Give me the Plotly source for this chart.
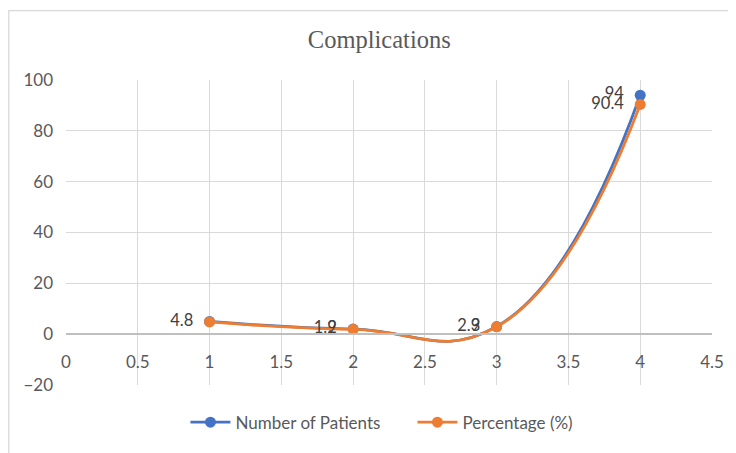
import plotly.graph_objects as go

x_vals = [1, 2, 3, 4]
patients = [5, 2, 3, 94]
percentage = [4.8, 1.9, 2.9, 90.4]
patients_labels = ["", "2", "3", "94"]
percentage_labels = ["4.8", "1.9", "2.9", "90.4"]

BLUE = "#4472C4"
ORANGE = "#ED7D31"
PAD = "\u00a0\u00a0"
LABEL_FONT = dict(family="Lato, Liberation Sans, sans-serif", size=16.5, color="#404040")

fig = go.Figure()
fig.add_trace(go.Scatter(
    x=x_vals, y=patients, name="Number of Patients",
    mode="lines+markers+text",
    line=dict(color=BLUE, width=2.8, shape="spline", smoothing=1.3),
    marker=dict(color=BLUE, size=11),
    text=[t + PAD if t else t for t in patients_labels],
    textposition="middle left", textfont=LABEL_FONT,
))
fig.add_trace(go.Scatter(
    x=x_vals, y=percentage, name="Percentage (%)",
    mode="lines+markers+text",
    line=dict(color=ORANGE, width=2.8, shape="spline", smoothing=1.3),
    marker=dict(color=ORANGE, size=11),
    text=[t + PAD for t in percentage_labels],
    textposition="middle left", textfont=LABEL_FONT,
))

ymin, ymax = -20, 100
W, H = 728, 445
L, T, R, B = 58, 72, 21, 65
pw, ph = W - L - R, H - T - B
fig.update_layout(
    width=W, height=H,
    margin=dict(l=L, r=R, t=T, b=B),
    paper_bgcolor="white", plot_bgcolor="white",
    title=dict(text="Complications", x=0.51, xanchor="center", xref="container",
               y=0.93, yanchor="middle", yref="container",
               font=dict(family="Liberation Serif, DejaVu Serif, serif", size=24.5, color="#595959")),
    font=dict(family="Lato, Liberation Sans, sans-serif", size=17, color="#595959"),
    xaxis=dict(range=[0, 4.5], dtick=0.5, tick0=0, showgrid=True, gridcolor="#D9D9D9",
               gridwidth=1.3, zeroline=False, showline=True, linecolor="#BFBFBF", linewidth=1.5,
               anchor="free", position=(0 - ymin) / (ymax - ymin), ticks="",
               ticklabelstandoff=13,
               tickfont=dict(size=17, color="#595959")),
    yaxis=dict(range=[ymin, ymax], dtick=20, showgrid=True, gridcolor="#D9D9D9",
               gridwidth=1.3, zeroline=False, showline=False, ticks="",
               ticklabelstandoff=12,
               tickfont=dict(size=17, color="#595959")),
    legend=dict(orientation="h", x=(186 - 8 - L) / pw, xanchor="left",
                y=(H - B - 418) / ph, yanchor="middle", entrywidth=172, itemwidth=40,
                font=dict(size=17, color="#595959")),
    showlegend=True,
)
fig.add_shape(type="rect", xref="paper", yref="paper",
              x0=(0.5 - L) / pw, x1=(W + 5 - L) / pw,
              y0=-(B + 10) / ph, y1=(H - B - 2) / ph,
              line=dict(color="#D9D9D9", width=1.3), layer="below")
fig.write_html("out.html")
